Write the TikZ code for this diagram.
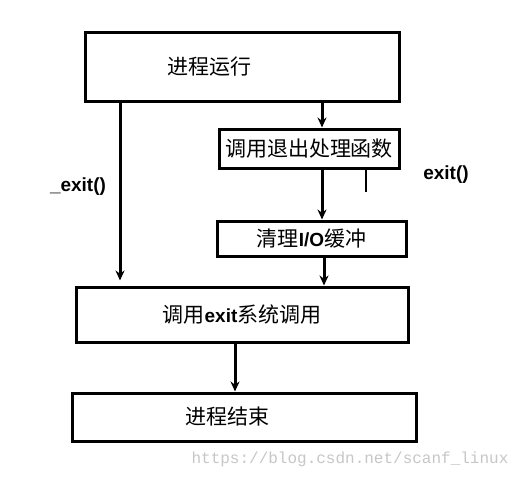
\documentclass[tikz,border=0pt]{standalone}
\usepackage{fontspec}
\setmainfont{Liberation Sans}
\setmonofont{Liberation Mono}
\newfontfamily\cjk{Noto Sans CJK SC}
\usetikzlibrary{arrows.meta}

% Latin words inside the Chinese box texts
\newcommand{\callfn}[1]{{\normalfont\bfseries\fontsize{19}{22}\selectfont #1}}

\begin{document}
\begin{tikzpicture}[
    x=1pt, y=-1pt,
    every node/.style={inner sep=0pt},
    procbox/.style={rectangle, draw, line width=3pt, align=center, font=\cjk\fontsize{21}{24}\selectfont},
    arrow/.style={-{Stealth[length=10pt, width=9pt]}, line width=3pt},
    callname/.style={font=\bfseries\fontsize{19}{22}\selectfont}
]

% Canvas
\fill[white] (0,0) rectangle (531,479);
\useasboundingbox (0,0) rectangle (531,479);

% Process boxes
\node[procbox, minimum width=314, minimum height=69] (run) at (242,67) {进程运行\hspace*{66pt}};
\node[procbox, minimum width=180, minimum height=39] (handlers) at (309,148.5) {调用退出处理函数};
\node[procbox, minimum width=189, minimum height=35] (flush) at (311.5,238.5) {清理\callfn{I/O}缓冲};
\node[procbox, minimum width=332, minimum height=55] (syscall) at (242,314.5) {调用\callfn{exit}系统调用};
\node[procbox, minimum width=344, minimum height=48] (done) at (244,417) {进程结束\hspace*{33pt}};

% Columns of the connectors
\coordinate (leftcol) at (120,0);
\coordinate (rightcol) at (322,0);
\coordinate (flushcol) at (324,0);
\coordinate (endcol) at (235,0);

% exit() path
\draw[arrow] (run.south -| rightcol) -- (handlers.north -| rightcol);
\draw[arrow] (handlers.south -| rightcol) -- (flush.north -| rightcol);
\draw[arrow] (flush.south -| flushcol) -- (syscall.north -| flushcol);

% _exit() path
\draw[arrow, shorten >=5pt] (run.south -| leftcol) -- (syscall.north -| leftcol);

% Last step
\draw[arrow] (syscall.south -| endcol) -- (done.north -| endcol);

% Labels
\coordinate (tickend) at (366,192);
\draw[line width=1.5pt] (handlers.south -| tickend) -- (tickend);
\node[callname] (exitlbl) at (446,175) {exit()};
\node[callname] (uexitlbl) at (78,187) {\_exit()};

% Watermark
\node[font=\ttfamily\fontsize{16}{18}\selectfont, text=black!22] (mark) at (350,459) {https://blog.csdn.net/scanf\_linux};

\end{tikzpicture}
\end{document}
